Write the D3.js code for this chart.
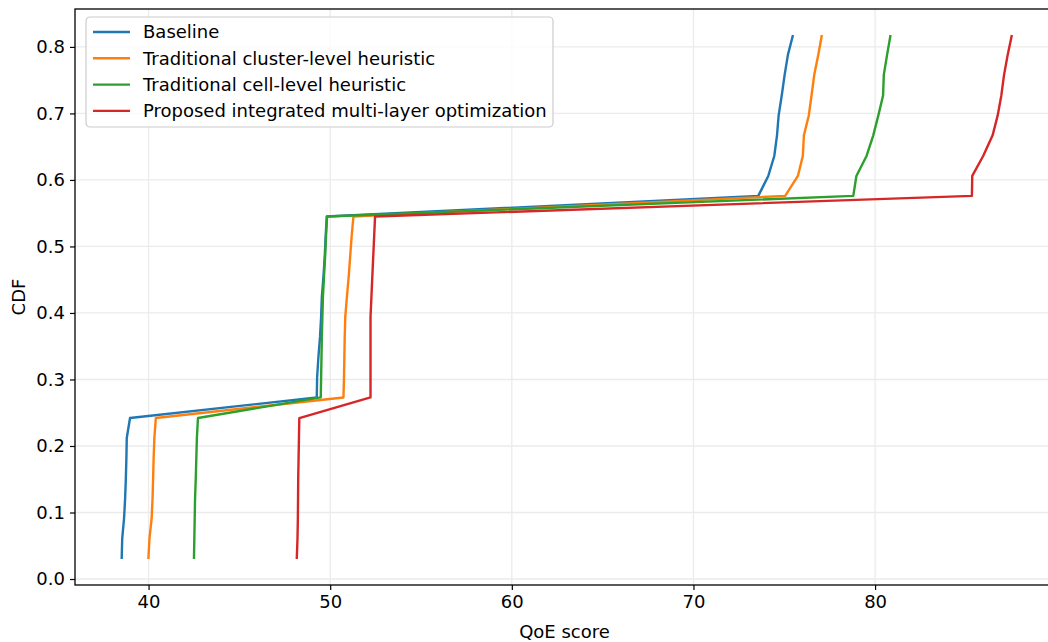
<!DOCTYPE html>
<html>
<head>
<meta charset="utf-8">
<script src="https://cdn.jsdelivr.net/npm/d3@7"></script>
<style>
  body { margin: 0; background: #fff; }
  svg { display: block; font-family: "DejaVu Sans", sans-serif; }
</style>
</head>
<body>
<svg id="chart" width="1048" height="642"></svg>
<script>
// cumulative probability at each sorted sample
var cdfLevels = [0.030, 0.061, 0.091, 0.121, 0.152, 0.182, 0.212, 0.242, 0.273,
    0.303, 0.333, 0.364, 0.394, 0.424, 0.455, 0.485, 0.515, 0.545, 0.576,
    0.606, 0.636, 0.667, 0.697, 0.727, 0.758, 0.788, 0.818];

var baseline = [38.52, 38.55, 38.65, 38.71, 38.75, 38.78, 38.80, 38.98, 49.26,
    49.28, 49.35, 49.44, 49.50, 49.54, 49.63, 49.70, 49.75, 49.81, 73.57,
    74.12, 74.45, 74.60, 74.69, 74.86, 75.02, 75.20, 75.48];
var clusterHeur = [39.99, 40.05, 40.17, 40.22, 40.25, 40.28, 40.32, 40.40, 50.73,
    50.76, 50.78, 50.80, 50.83, 50.92, 51.02, 51.10, 51.18, 51.28, 75.05,
    75.75, 76.02, 76.08, 76.35, 76.50, 76.65, 76.87, 77.07];
var cellHeur = [42.50, 42.52, 42.54, 42.56, 42.60, 42.63, 42.66, 42.72, 49.48,
    49.50, 49.52, 49.54, 49.57, 49.60, 49.66, 49.72, 49.77, 49.83, 78.80,
    78.97, 79.53, 79.90, 80.18, 80.44, 80.48, 80.66, 80.85];
var proposed = [48.16, 48.20, 48.22, 48.23, 48.24, 48.26, 48.28, 48.30, 52.22,
    52.22, 52.22, 52.22, 52.22, 52.27, 52.32, 52.37, 52.42, 52.47, 85.33,
    85.35, 85.95, 86.47, 86.75, 86.95, 87.10, 87.30, 87.53];

var seriesNames = ["Baseline", "Traditional cluster-level heuristic",
    "Traditional cell-level heuristic", "Proposed integrated multi-layer optimization"];
var seriesValues = [baseline, clusterHeur, cellHeur, proposed];
var cores = ["#1f77b4", "#ff7f0e", "#2ca02c", "#d62728"];

var xTicks = [40, 50, 60, 70, 80];
var yTicks = [0.0, 0.1, 0.2, 0.3, 0.4, 0.5, 0.6, 0.7, 0.8];

var plot = {left: 75, right: 1054, top: 9, bottom: 585};
var fonte = 18;

var x = d3.scaleLinear().domain([35.95, 89.85]).range([plot.left, plot.right]);
var y = d3.scaleLinear().domain([-0.009, 0.857]).range([plot.bottom, plot.top]);

var svg = d3.select("#chart");

// grid
svg.append("g").selectAll("line").data(xTicks).enter().append("line")
    .attr("x1", function (d) { return x(d); })
    .attr("x2", function (d) { return x(d); })
    .attr("y1", plot.top).attr("y2", plot.bottom)
    .attr("stroke", "#ebebeb").attr("stroke-width", 1.3);
svg.append("g").selectAll("line").data(yTicks).enter().append("line")
    .attr("y1", function (d) { return y(d); })
    .attr("y2", function (d) { return y(d); })
    .attr("x1", plot.left).attr("x2", plot.right)
    .attr("stroke", "#ebebeb").attr("stroke-width", 1.3);

// lines
var linha = d3.line()
    .x(function (d) { return x(d[0]); })
    .y(function (d) { return y(d[1]); });

seriesValues.forEach(function (vals, i) {
    var pts = vals.map(function (v, j) { return [v, cdfLevels[j]]; });
    svg.append("path")
        .datum(pts)
        .attr("d", linha)
        .attr("fill", "none")
        .attr("stroke", cores[i])
        .attr("stroke-width", 2.4)
        .attr("stroke-linejoin", "round");
});

// axes
var xAxis = svg.append("g")
    .attr("transform", "translate(0," + plot.bottom + ")")
    .call(d3.axisBottom(x).tickValues(xTicks).tickSize(5).tickPadding(5));
var yAxis = svg.append("g")
    .attr("transform", "translate(" + plot.left + ",0)")
    .call(d3.axisLeft(y).tickValues(yTicks).tickFormat(d3.format(".1f")).tickSize(5).tickPadding(5));

[xAxis, yAxis].forEach(function (ax) {
    ax.select(".domain").remove();
    ax.selectAll("line").attr("stroke", "#000").attr("stroke-width", 1.2);
    ax.selectAll("text").attr("font-size", fonte).attr("fill", "#000")
        .attr("font-family", "DejaVu Sans");
});

// spines (right one falls outside the picture)
svg.append("rect")
    .attr("x", plot.left).attr("y", plot.top)
    .attr("width", plot.right - plot.left).attr("height", plot.bottom - plot.top)
    .attr("fill", "none").attr("stroke", "#000").attr("stroke-width", 1.3);

// axis labels
svg.append("text")
    .attr("x", (plot.left + plot.right) / 2).attr("y", 638)
    .attr("text-anchor", "middle").attr("font-size", fonte)
    .text("QoE score");
svg.append("text")
    .attr("transform", "translate(25," + (plot.top + plot.bottom) / 2 + ") rotate(-90)")
    .attr("text-anchor", "middle").attr("font-size", fonte)
    .text("CDF");

// legend
var leg = svg.append("g").attr("transform", "translate(86,17)");
leg.append("rect")
    .attr("width", 467).attr("height", 110)
    .attr("rx", 4)
    .attr("fill", "#fff").attr("fill-opacity", 0.8)
    .attr("stroke", "#cccccc").attr("stroke-width", 1.2);
var item = leg.selectAll("g.item").data(seriesNames).enter().append("g")
    .attr("class", "item")
    .attr("transform", function (d, i) { return "translate(0," + (15 + i * 26.3) + ")"; });
item.append("line")
    .attr("x1", 7).attr("x2", 44)
    .attr("stroke", function (d, i) { return cores[i]; })
    .attr("stroke-width", 2.4);
item.append("text")
    .attr("x", 57).attr("dy", "0.36em")
    .attr("font-size", fonte)
    .text(function (d) { return d; });
</script>
</body>
</html>
